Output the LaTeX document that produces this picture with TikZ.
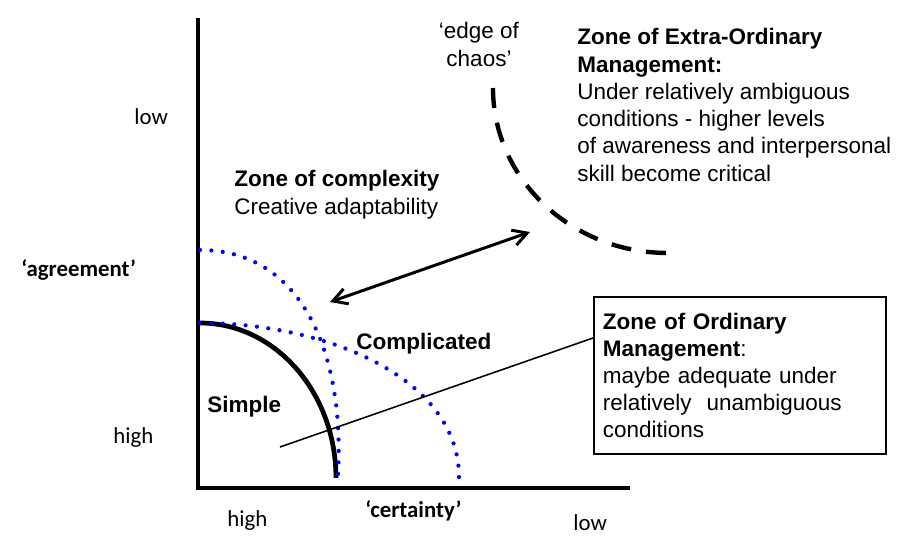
\documentclass[tikz,border=0pt]{standalone}
\usepackage{fontspec}
\setmainfont{Liberation Sans}
\newfontfamily\calib{Carlito}
\usetikzlibrary{arrows.meta}

\tikzstyle{axis} = [draw, line width=2pt]
\tikzstyle{dots} = [draw=blue, line width=2.4pt, line cap=round, dash pattern=on 0pt off 6.5pt]
\tikzstyle{dbl} = [draw, line width=1.7pt, {Straight Barb[length=8pt,width=9pt]}-{Straight Barb[length=8pt,width=9pt]}]
\tikzstyle{lbl} = [inner sep=0pt, font=\fontsize{12.8}{15.5}\selectfont]
\tikzstyle{axlbl} = [inner sep=0pt, font=\calib\fontsize{13}{15}\selectfont]

\begin{document}
\begin{tikzpicture}[x=0.02cm,y=0.02cm]
		\useasboundingbox (0,0) rectangle (910,-548);
		
		%axes
		\coordinate (ytop) at (198,-18);
		\coordinate (orig) at (198,-488);
		\coordinate (xend) at (630,-488);
		\draw[axis] (ytop) -- (orig) -- (xend);
		
		%zones
		\draw[line width=2.7pt] (200,-323) arc[start angle=90, end angle=0, x radius=2.72cm, y radius=3.1cm];
		\draw[dots] (200,-250) .. controls (300,-250) and (345,-350) .. (338,-475);
		\draw[dots] (200,-323) .. controls (330,-323) and (460,-380) .. (459,-478);
		\draw[line width=2.5pt, dash pattern=on 0.4cm off 0.3cm] (493,-88) arc[start angle=180, end angle=270, x radius=3.5cm, y radius=3.3cm];
		
		%box
		\node[lbl, draw, line width=1.1pt, anchor=north west, text width=5.48cm, minimum height=3.14cm, inner xsep=0.18cm, align=left] (ordbox) at (593,-296) {\textbf{Zone of Ordinary}\\\textbf{Management}:\\maybe adequate under\\relatively~ unambiguous\\conditions};
		
		%arrows
		\coordinate (arrA) at (330,-302);
		\coordinate (arrB) at (530,-232);
		\draw[dbl] (arrA) -- (arrB);
		\coordinate (lnA) at (280,-447);
		\coordinate (lnB) at (593,-338);
		\draw[line width=0.9pt] (lnA) -- (lnB);
		
		%labels (base = last line)
		\node[lbl, anchor=base, align=center] (chaos) at (479,-66) {‘edge of\\chaos’};
		\node[lbl, anchor=base west, align=left] (xzone) at (577,-181) {\textbf{Zone of Extra-Ordinary}\\\textbf{Management:}\\Under relatively ambiguous\\conditions - higher levels\\of awareness and interpersonal\\skill become critical};
		\node[lbl, anchor=base west, align=left] (cplx) at (234,-214) {\textbf{Zone of complexity}\\Creative adaptability};
		\node[lbl, anchor=base west] (compl) at (356,-349) {\textbf{Complicated}};
		\node[lbl, anchor=base west] (simple) at (207,-412) {\textbf{Simple}};
		
		\node[axlbl, anchor=base west] (ylow) at (134,-124) {low};
		\node[axlbl, anchor=base west] (yname) at (21,-276) {\textbf{‘agreement’}};
		\node[axlbl, anchor=base west] (yhigh) at (113,-443) {high};
		\node[axlbl, anchor=base west] (xhigh) at (227,-526) {high};
		\node[axlbl, anchor=base west] (xname) at (365,-517) {\textbf{‘certainty’}};
		\node[axlbl, anchor=base west] (xlow) at (573,-530) {low};
		\end{tikzpicture}
\end{document}
